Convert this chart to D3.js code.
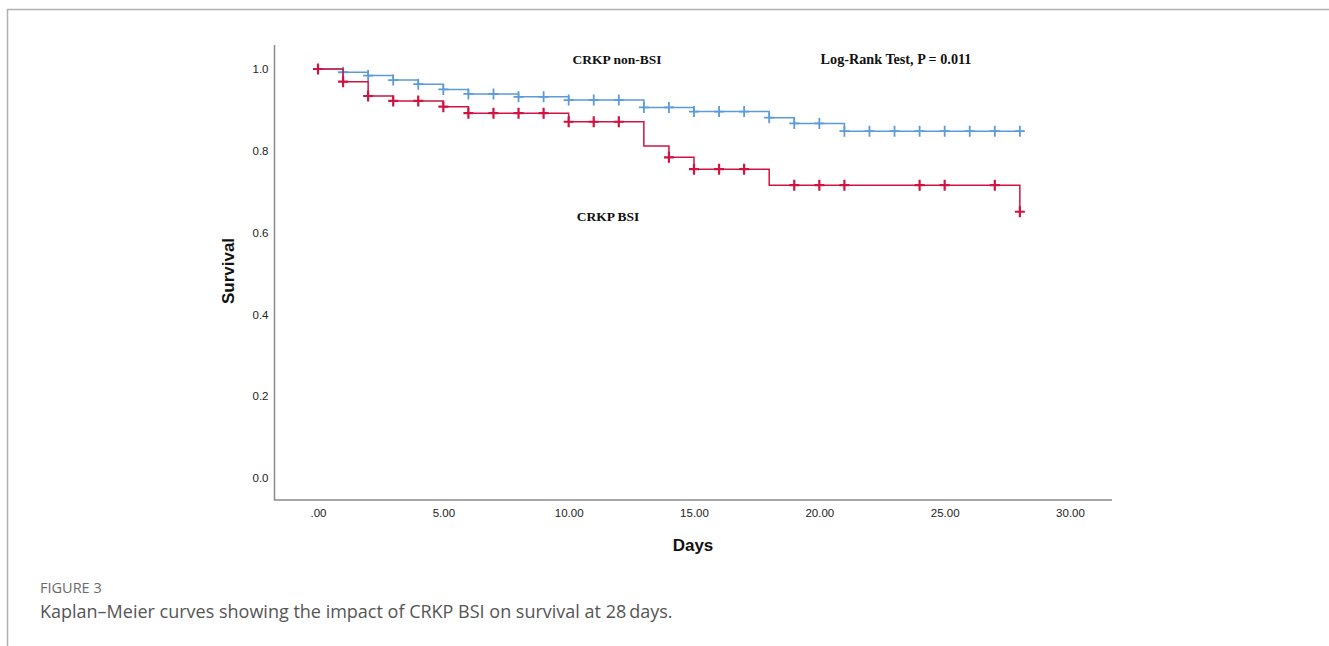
<!DOCTYPE html>
<html>
<head>
<meta charset="utf-8">
<script src="https://cdn.jsdelivr.net/npm/d3@7"></script>
<style>
  body { margin: 0; background: #fff; }
  svg { display: block; }
</style>
</head>
<body>
<div id="chart"></div>
<script>
// Kaplan-Meier step data (day, survival after that day's events)
const nonBsiDays = [0, 1, 2, 3, 4, 5, 6, 8, 10, 13, 15, 18, 19, 21, 28];
const nonBsiSurv = [1, 0.992, 0.984, 0.973, 0.963, 0.950, 0.939, 0.932, 0.924, 0.906, 0.896, 0.881, 0.867, 0.848, 0.848];
const nonBsiCensored = d3.range(1, 29);

const bsiDays = [0, 1, 2, 3, 5, 6, 10, 13, 14, 15, 18, 28];
const bsiSurv = [1, 0.969, 0.934, 0.922, 0.908, 0.892, 0.871, 0.812, 0.784, 0.755, 0.716, 0.651];
const bsiCensored = [0, 1, 2, 3, 4, 5, 6, 7, 8, 9, 10, 11, 12, 14, 15, 16, 17, 19, 20, 21, 24, 25, 27, 28];

const xTicks = [0, 5, 10, 15, 20, 25, 30];
const xTickLabels = [".00", "5.00", "10.00", "15.00", "20.00", "25.00", "30.00"];
const yTicks = [0, 0.2, 0.4, 0.6, 0.8, 1.0];
const yTickLabels = ["0.0", "0.2", "0.4", "0.6", "0.8", "1.0"];

const W = 1329, H = 646;
const blue = "#5b9bd8", red = "#cf1442";

const svg = d3.select("#chart").append("svg")
    .attr("width", W)
    .attr("height", H);

// page frame (top and left rule)
svg.append("path")
    .attr("d", `M7.5,${H} V9.5 H${W}`)
    .attr("fill", "none")
    .attr("stroke", "#b0b0b0")
    .attr("stroke-width", 1.5);

// plot area
const frame = { left: 274.5, right: 1112, top: 45, bottom: 500 };
const x = d3.scaleLinear().domain([0, 30]).range([318, 1070]);
const y = d3.scaleLinear().domain([0, 1]).range([478, 69]);

// axes without tick marks, SPSS style
const xAxis = svg.append("g")
    .attr("transform", `translate(0,${frame.bottom})`)
    .call(d3.axisBottom(x).tickValues(xTicks).tickSize(0).tickPadding(9)
        .tickFormat((d, i) => xTickLabels[i]));
const yAxis = svg.append("g")
    .attr("transform", `translate(${frame.left},0)`)
    .call(d3.axisLeft(y).tickValues(yTicks).tickSize(0).tickPadding(6)
        .tickFormat((d, i) => yTickLabels[i]));

[xAxis, yAxis].forEach(g => {
    g.select(".domain").remove();
    g.selectAll("text")
        .style("font-family", "'Liberation Sans', Arial, sans-serif")
        .style("font-size", "11.5px")
        .attr("fill", "#222");
});

svg.append("path")
    .attr("d", `M${frame.left},${frame.top} V${frame.bottom} H${frame.right}`)
    .attr("fill", "none")
    .attr("stroke", "#8a8a8a")
    .attr("stroke-width", 1.5);

// axis titles
svg.append("text")
    .attr("x", 693)
    .attr("y", 551)
    .attr("text-anchor", "middle")
    .style("font-family", "'Liberation Sans', Arial, sans-serif")
    .style("font-size", "17px")
    .style("font-weight", "bold")
    .attr("fill", "#111")
    .text("Days");

svg.append("text")
    .attr("transform", "translate(234,271) rotate(-90)")
    .attr("text-anchor", "middle")
    .style("font-family", "'Liberation Sans', Arial, sans-serif")
    .style("font-size", "17px")
    .style("font-weight", "bold")
    .attr("fill", "#111")
    .text("Survival");

// survival curves
const stepLine = d3.line()
    .x(d => x(d[0]))
    .y(d => y(d[1]))
    .curve(d3.curveStepAfter);

const survAt = (days, surv, t) => surv[d3.bisectRight(days, t) - 1];

const groups = [
    { days: nonBsiDays, surv: nonBsiSurv, cens: nonBsiCensored, color: blue, width: 1.5, mark: 1.8 },
    { days: bsiDays, surv: bsiSurv, cens: bsiCensored, color: red, width: 1.5, mark: 2.2 }
];

groups.forEach(g => {
    svg.append("path")
        .datum(d3.zip(g.days, g.surv))
        .attr("fill", "none")
        .attr("stroke", g.color)
        .attr("stroke-width", g.width)
        .attr("d", stepLine);

    // censor "+" marks
    svg.append("g").selectAll("path")
        .data(g.cens)
        .enter()
        .append("path")
        .attr("transform", d => `translate(${x(d)},${y(survAt(g.days, g.surv, d))})`)
        .attr("d", "M-5,0 H5 M0,-5.5 V5.5")
        .attr("stroke", g.color)
        .attr("stroke-width", g.mark);
});

// annotations
const serif = "'Liberation Serif', 'Times New Roman', serif";
const notes = [
    { text: "CRKP non-BSI", x: 617, y: 64, size: 13.5 },
    { text: "Log-Rank Test, P = 0.011", x: 896, y: 64, size: 14.2 },
    { text: "CRKP BSI", x: 608, y: 221, size: 13.5 }
];
svg.selectAll(".note")
    .data(notes)
    .enter()
    .append("text")
    .attr("class", "note")
    .attr("x", d => d.x)
    .attr("y", d => d.y)
    .attr("text-anchor", "middle")
    .style("font-family", serif)
    .style("font-size", d => d.size + "px")
    .style("font-weight", "bold")
    .attr("fill", "#111")
    .text(d => d.text);

// figure caption
svg.append("text")
    .attr("x", 40)
    .attr("y", 593)
    .style("font-family", "'Open Sans', sans-serif")
    .style("font-size", "14.5px")
    .attr("fill", "#6b6b6b")
    .text("FIGURE 3");

svg.append("text")
    .attr("x", 40)
    .attr("y", 618)
    .style("font-family", "'Open Sans', sans-serif")
    .style("font-size", "18px")
    .attr("fill", "#555")
    .text("Kaplan\u2013Meier curves showing the impact of CRKP BSI on survival at 28\u2009days.");
</script>
</body>
</html>
